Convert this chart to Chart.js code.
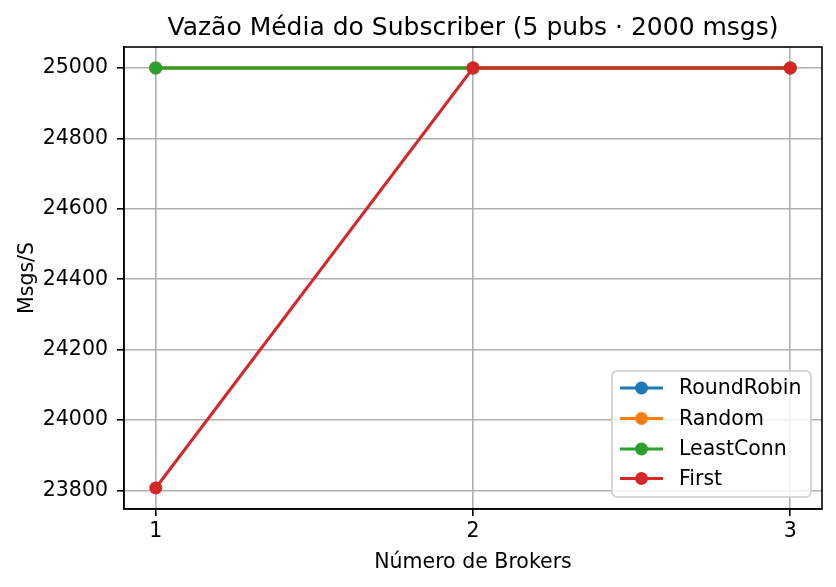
<!DOCTYPE html>
<html>
<head>
<meta charset="utf-8">
<script src="https://cdn.jsdelivr.net/npm/chart.js@4"></script>
<style>
html,body{margin:0;padding:0;background:#fff;}
#wrap{width:836px;height:587px;position:relative;}
</style>
</head>
<body>
<div id="wrap"><canvas id="c" width="836" height="587"></canvas></div>
<script>
const brokers = [1, 2, 3];
const roundRobin = [25000, 25000, 25000];
const random = [25000, 25000, 25000];
const leastConn = [25000, 25000, 25000];
const first = [23807, 25000, 25000];
const yTicks = [23800, 24000, 24200, 24400, 24600, 24800, 25000];
const xTicks = [1, 2, 3];
const seriesNames = ['RoundRobin', 'Random', 'LeastConn', 'First'];
const seriesColors = ['#1f77b4', '#ff7f0e', '#2ca02c', '#d62728'];
const titleText = 'Vazão Média do Subscriber (5 pubs · 2000 msgs)';
const xLabel = 'Número de Brokers';
const yLabel = 'Msgs/S';

const FONT = "'DejaVu Sans', sans-serif";
const TICK_PX = 20.5;
const MARK_R = 6.5;

const seriesValues = [roundRobin, random, leastConn, first];
const datasets = seriesValues.map((vals, i) => ({
  label: seriesNames[i],
  data: vals.map((v, j) => ({x: brokers[j], y: v})),
  borderColor: seriesColors[i],
  backgroundColor: seriesColors[i],
  borderWidth: 3,
  pointRadius: MARK_R,
  pointHoverRadius: MARK_R,
  pointBorderWidth: 0,
  tension: 0,
  order: seriesValues.length - 1 - i
}));

const dataMin = Math.min(...seriesValues.flat());
const dataMax = Math.max(...seriesValues.flat());
const marg = (dataMax - dataMin) * 0.05;

const decor = {
  id: 'decor',
  afterDraw(chart) {
    const ctx = chart.ctx;
    const a = chart.chartArea;
    ctx.save();
    // frame
    ctx.strokeStyle = '#000';
    ctx.lineWidth = 1.6;
    ctx.strokeRect(a.left, a.top, a.right - a.left, a.bottom - a.top);
    // title
    ctx.fillStyle = '#000';
    ctx.font = `25px ${FONT}`;
    ctx.textAlign = 'center';
    ctx.textBaseline = 'alphabetic';
    ctx.fillText(titleText, (a.left + a.right) / 2, 35);
    // x label
    ctx.font = `${TICK_PX}px ${FONT}`;
    ctx.fillText(xLabel, (a.left + a.right) / 2, 568);
    // y label
    ctx.save();
    ctx.translate(33, (a.top + a.bottom) / 2);
    ctx.rotate(-Math.PI / 2);
    ctx.fillText(yLabel, 0, 0);
    ctx.restore();
    // legend
    const lx = 612, ly = 371, lw = 199, lh = 126, r = 5;
    ctx.beginPath();
    ctx.moveTo(lx + r, ly);
    ctx.arcTo(lx + lw, ly, lx + lw, ly + lh, r);
    ctx.arcTo(lx + lw, ly + lh, lx, ly + lh, r);
    ctx.arcTo(lx, ly + lh, lx, ly, r);
    ctx.arcTo(lx, ly, lx + lw, ly, r);
    ctx.closePath();
    ctx.fillStyle = 'rgba(255,255,255,0.8)';
    ctx.fill();
    ctx.strokeStyle = '#cccccc';
    ctx.lineWidth = 1.6;
    ctx.stroke();
    const rows = [388, 418.5, 449, 478.5];
    ctx.textAlign = 'left';
    ctx.textBaseline = 'middle';
    seriesNames.forEach((n, i) => {
      const y = rows[i];
      ctx.strokeStyle = seriesColors[i];
      ctx.lineWidth = 3;
      ctx.beginPath();
      ctx.moveTo(620, y);
      ctx.lineTo(663, y);
      ctx.stroke();
      ctx.fillStyle = seriesColors[i];
      ctx.beginPath();
      ctx.arc(641.5, y, MARK_R, 0, Math.PI * 2);
      ctx.fill();
      ctx.fillStyle = '#000';
      ctx.font = `${TICK_PX}px ${FONT}`;
      ctx.fillText(n, 679, y + 1);
    });
    ctx.restore();
  }
};

new Chart(document.getElementById('c'), {
  type: 'line',
  data: { datasets },
  options: {
    responsive: false,
    animation: false,
    devicePixelRatio: 1,
    layout: { padding: { left: 0, right: 14, top: 47, bottom: 0 } },
    plugins: { legend: { display: false }, title: { display: false }, tooltip: { enabled: false } },
    scales: {
      x: {
        type: 'linear',
        min: 0.9,
        max: 3.1,
        afterBuildTicks(s) { s.ticks = xTicks.map(v => ({value: v})); },
        afterFit(s) { s.height = 587 - 509; },
        ticks: { color: '#000', font: { family: FONT, size: TICK_PX }, padding: 3, maxRotation: 0, callback: v => String(v) },
        grid: { color: '#b0b0b0', lineWidth: 1.6, tickColor: '#000', tickLength: 7, drawOnChartArea: true },
        border: { display: true, color: '#000', width: 1.6 }
      },
      y: {
        type: 'linear',
        min: dataMin - marg,
        max: dataMax + marg,
        afterBuildTicks(s) { s.ticks = yTicks.map(v => ({value: v})); },
        afterFit(s) { s.width = 124; },
        ticks: { color: '#000', font: { family: FONT, size: TICK_PX }, padding: 9, callback: v => String(v) },
        grid: { color: '#b0b0b0', lineWidth: 1.6, tickColor: '#000', tickLength: 7 },
        border: { display: true, color: '#000', width: 1.6 }
      }
    }
  },
  plugins: [decor]
});
</script>
</body>
</html>
